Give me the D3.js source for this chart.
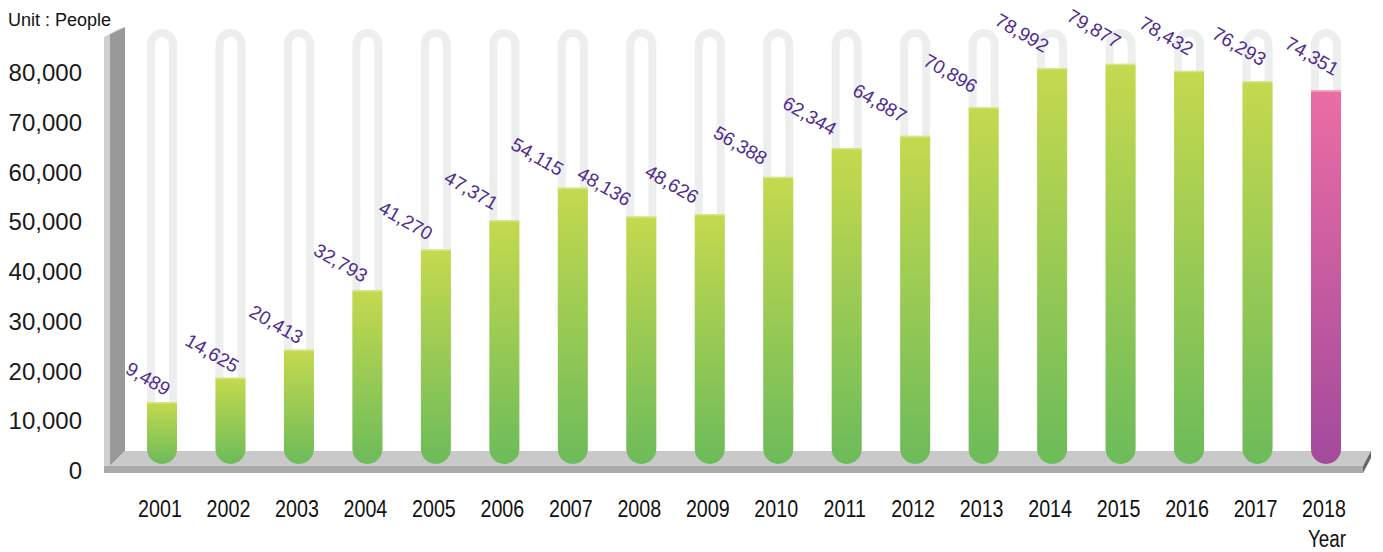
<!DOCTYPE html>
<html>
<head>
<meta charset="utf-8">
<script src="https://cdn.jsdelivr.net/npm/d3@7/dist/d3.min.js"></script>
<style>
  html, body { margin: 0; padding: 0; background: #fff; }
  svg { display: block; font-family: "Liberation Sans", Arial, sans-serif; }
</style>
</head>
<body>
<svg id="chart" width="1383" height="552"></svg>
<script>
// data
let years = ['2001', '2002', '2003', '2004', '2005', '2006', '2007', '2008', '2009',
             '2010', '2011', '2012', '2013', '2014', '2015', '2016', '2017', '2018']
let people = [9489, 14625, 20413, 32793, 41270, 47371, 54115, 48136, 48626,
              56388, 62344, 64887, 70896, 78992, 79877, 78432, 76293, 74351]
let yTicks = [0, 10000, 20000, 30000, 40000, 50000, 60000, 70000, 80000]
let unitText = 'Unit : People'
let xTitle = 'Year'
let pinkYear = '2018'

window.onload = function () {
  let svg = d3.select('#chart')
  let fmt = d3.format(',')

  // tube size
  let tubeR = 15
  let tubeTop = 29
  let tubeBottom = 449

  // x: centre of each tube
  let x = d3.scalePoint().domain(years).range([162, 1326])

  // front plane (tick labels) and back plane (bars) of the 3d box
  let yFront = d3.scaleLinear().domain([0, 80000]).range([471, 73])
  let yBack = d3.scaleLinear().domain([0, 80000]).range([447.7, 63.2])

  // gradients
  let defs = svg.append('defs')
  let addGrad = function (id, top, bottom) {
    let g = defs.append('linearGradient')
        .attr('id', id)
        .attr('x1', 0).attr('y1', 0)
        .attr('x2', 0).attr('y2', 1)
    g.append('stop').attr('offset', '0%').attr('stop-color', top)
    g.append('stop').attr('offset', '100%').attr('stop-color', bottom)
  }
  addGrad('green', '#c5d94e', '#6cbb5a')
  addGrad('pink', '#eb6da4', '#a24a9c')

  // wall and floor
  let box = [
    { p: [[104, 37], [110, 34], [110, 466], [104, 466]], c: '#cfcfcf' },
    { p: [[110, 34], [125, 27], [125, 451], [110, 466]], c: '#999999' },
    { p: [[104, 37], [119, 28.5], [125, 27], [110, 34]], c: '#dadada' },
    { p: [[125, 451], [1371, 451], [1363, 466], [110, 466]], c: '#c9c9c9' },
    { p: [[104, 466], [1363, 466], [1363, 473], [104, 473]], c: '#a9a9a9' },
    { p: [[1363, 466], [1371, 451], [1371, 458], [1363, 473]], c: '#6e655f' }
  ]
  svg.append('g')
     .selectAll('path')
     .data(box)
     .enter()
     .append('path')
     .attr('d', d => 'M' + d.p.join('L') + 'Z')
     .attr('fill', d => d.c)

  // empty tubes
  svg.append('g')
     .selectAll('path')
     .data(years)
     .enter()
     .append('path')
     .attr('d', function (d) {
       let cx = x(d)
       let r = tubeR - 4
       return `M${cx - r},${tubeBottom}L${cx - r},${tubeTop + tubeR}` +
              `A${r},${r} 0 0 1 ${cx + r},${tubeTop + tubeR}L${cx + r},${tubeBottom}`
     })
     .attr('fill', 'none')
     .attr('stroke', '#edeeee')
     .attr('stroke-width', 8)

  // bars
  let bars = svg.append('g')
     .selectAll('g')
     .data(years)
     .enter()
     .append('g')

  bars.append('path')
      .attr('d', function (d, i) {
        let x0 = x(d) - tubeR
        let x1 = x(d) + tubeR
        let top = yBack(people[i])
        return `M${x0},${top}L${x1},${top}L${x1},${tubeBottom}` +
               `A${tubeR},${tubeR} 0 0 1 ${x0},${tubeBottom}Z`
      })
      .attr('fill', d => d === pinkYear ? 'url(#pink)' : 'url(#green)')

  bars.append('line')
      .attr('x1', d => x(d) - tubeR)
      .attr('x2', d => x(d) + tubeR)
      .attr('y1', (d, i) => yBack(people[i]) + 0.75)
      .attr('y2', (d, i) => yBack(people[i]) + 0.75)
      .attr('stroke', 'rgba(255, 255, 255, 0.35)')
      .attr('stroke-width', 1.5)

  // value labels, slanted; they drift left more in the middle of the row
  let n = years.length
  svg.append('g')
     .selectAll('text')
     .data(years)
     .enter()
     .append('text')
     .attr('transform', function (d, i) {
       let lx = x(d) - 14 - 24 * Math.sin(Math.PI * i / (n - 1))
       let ly = yFront(people[i]) - 45
       return `translate(${lx},${ly}) rotate(30)`
     })
     .attr('text-anchor', 'middle')
     .attr('dominant-baseline', 'central')
     .style('font-size', '19px')
     .style('fill', '#4f2d8f')
     .text((d, i) => fmt(people[i]))

  // y tick labels
  svg.append('g')
     .selectAll('text')
     .data(yTicks)
     .enter()
     .append('text')
     .attr('x', 82)
     .attr('y', d => yFront(d) + 8)
     .attr('text-anchor', 'end')
     .style('font-size', '24px')
     .style('fill', '#1a1a1a')
     .text(d => fmt(d))

  // year labels, condensed
  svg.append('g')
     .selectAll('text')
     .data(years)
     .enter()
     .append('text')
     .attr('transform', d => `translate(${x(d) - 2},517) scale(0.82,1)`)
     .attr('text-anchor', 'middle')
     .style('font-size', '24px')
     .style('fill', '#111')
     .text(d => d)

  svg.append('text')
     .attr('transform', `translate(${x(pinkYear) + 1},546.5) scale(0.82,1)`)
     .attr('text-anchor', 'middle')
     .style('font-size', '23px')
     .style('fill', '#111')
     .text(xTitle)

  svg.append('text')
     .attr('x', 8)
     .attr('y', 26)
     .style('font-size', '18px')
     .style('fill', '#111')
     .text(unitText)
}
</script>
</body>
</html>
